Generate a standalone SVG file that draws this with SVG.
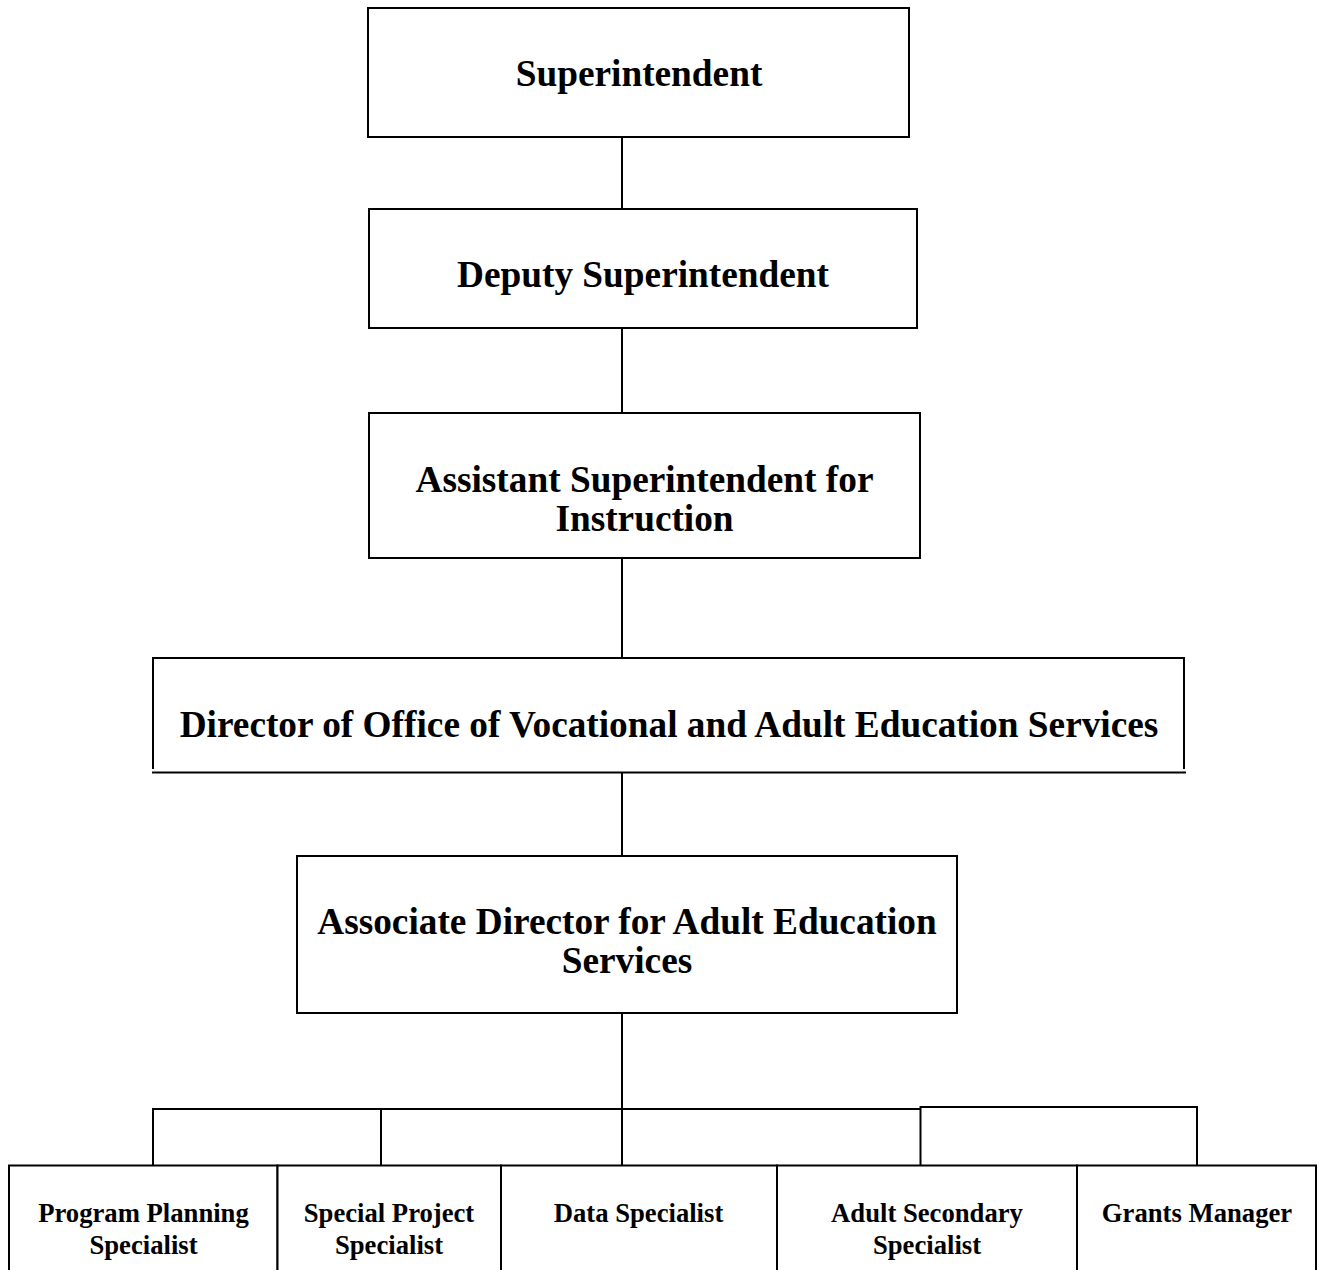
<svg xmlns="http://www.w3.org/2000/svg" width="1319" height="1270" viewBox="0 0 1319 1270">
<style>
.box{fill:#fff;stroke:#000;stroke-width:2}
.ln{fill:none;stroke:#000;stroke-width:2}
.t{font-family:"Liberation Serif","Times New Roman",serif;font-weight:bold;font-size:37.3px;text-anchor:middle;fill:#000}
.s{font-family:"Liberation Serif","Times New Roman",serif;font-weight:bold;font-size:26.67px;text-anchor:middle;fill:#000}
</style>
<rect width="1319" height="1270" fill="#fff"/>
<g id="connectors">
<line class="ln" x1="622" y1="137" x2="622" y2="209"/>
<line class="ln" x1="622" y1="328" x2="622" y2="413"/>
<line class="ln" x1="622" y1="558" x2="622" y2="658"/>
<line class="ln" x1="622" y1="773" x2="622" y2="856"/>
<line class="ln" x1="622" y1="1013" x2="622" y2="1165"/>
<line class="ln" x1="152" y1="1109" x2="921" y2="1109"/>
<line class="ln" x1="920" y1="1107" x2="1198" y2="1107"/>
<line class="ln" x1="153" y1="1108" x2="153" y2="1165"/>
<line class="ln" x1="381" y1="1109" x2="381" y2="1165"/>
<line class="ln" x1="920.5" y1="1106" x2="920.5" y2="1165"/>
<line class="ln" x1="1197" y1="1106" x2="1197" y2="1165"/>
</g>
<g id="superintendent">
<rect class="box" x="368" y="8" width="541" height="129"/>
<text class="t" x="639" y="86">Superintendent</text>
</g>
<g id="deputy">
<rect class="box" x="369" y="209" width="548" height="119"/>
<text class="t" x="643" y="287">Deputy Superintendent</text>
</g>
<g id="assistant">
<rect class="box" x="369" y="413" width="551" height="145"/>
<text class="t" x="644.5" y="492">Assistant Superintendent for</text>
<text class="t" x="644.5" y="531">Instruction</text>
</g>
<g id="director">
<polyline class="ln" points="153,769 153,658 1184,658 1184,769"/>
<line class="ln" x1="152" y1="772.5" x2="1186" y2="772.5"/>
<text class="t" x="669" y="737">Director of Office of Vocational and Adult Education Services</text>
</g>
<g id="associate">
<rect class="box" x="297" y="856" width="660" height="157"/>
<text class="t" x="627" y="934">Associate Director for Adult Education</text>
<text class="t" x="627" y="973">Services</text>
</g>
<g id="program-planning">
<rect class="box" x="9" y="1165.5" width="268.5" height="120"/>
<text class="s" x="143.5" y="1222">Program Planning</text>
<text class="s" x="143.5" y="1254">Specialist</text>
</g>
<g id="special-project">
<rect class="box" x="277.5" y="1165.5" width="223.5" height="120"/>
<text class="s" x="389" y="1222">Special Project</text>
<text class="s" x="389" y="1254">Specialist</text>
</g>
<g id="data-specialist">
<rect class="box" x="501" y="1165.5" width="276" height="120"/>
<text class="s" x="638.5" y="1222">Data Specialist</text>
</g>
<g id="adult-secondary">
<rect class="box" x="777" y="1165.5" width="300" height="120"/>
<text class="s" x="927" y="1222">Adult Secondary</text>
<text class="s" x="927" y="1254">Specialist</text>
</g>
<g id="grants-manager">
<rect class="box" x="1077" y="1165.5" width="239" height="120"/>
<text class="s" x="1197" y="1222">Grants Manager</text>
</g>
</svg>
